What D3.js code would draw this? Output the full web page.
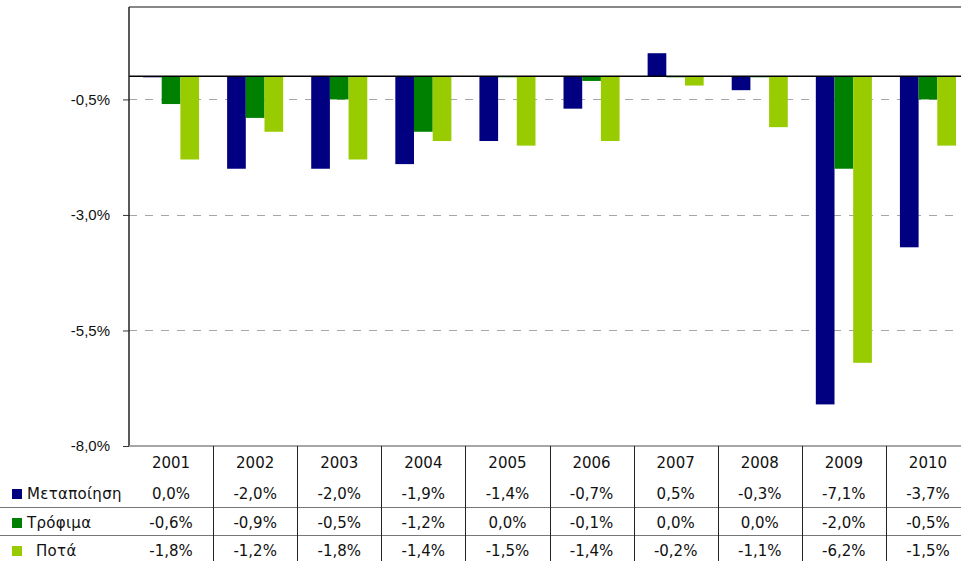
<!DOCTYPE html>
<html>
<head>
<meta charset="utf-8">
<script src="https://cdn.jsdelivr.net/npm/d3@7"></script>
<style>
	body { margin: 0; background: #fff; }
	svg { display: block; font-family: 'DejaVu Sans', Verdana, sans-serif; }
	text { fill: #111; }
</style>
</head>
<body>
<svg width="961" height="561"></svg>
<script>
'use strict'

// Data
const years = ['2001', '2002', '2003', '2004', '2005', '2006', '2007', '2008', '2009', '2010']
const seriesNames = ['Μεταποίηση', 'Τρόφιμα', 'Ποτά']
const manufacturing = [0.0, -2.0, -2.0, -1.9, -1.4, -0.7, 0.5, -0.3, -7.1, -3.7]
const food = [-0.6, -0.9, -0.5, -1.2, 0.0, -0.1, 0.0, 0.0, -2.0, -0.5]
const drinks = [-1.8, -1.2, -1.8, -1.4, -1.5, -1.4, -0.2, -1.1, -6.2, -1.5]
const yTicks = [-8.0, -5.5, -3.0, -0.5]
const colors = ['#000080', '#008000', '#99cc00']

const series = [manufacturing, food, drinks]

const svg = d3.select('svg')
const M = { left: 129, top: 7, right: 970, bottom: 446 }

const locale = d3.formatLocale({ decimal: ',', thousands: '.', grouping: [3], currency: ['', '€'], minus: '-' })
const fmt = (v) => locale.format('.1f')(v) + '%'

const x = d3.scaleBand().domain(years).range([M.left, M.right]).paddingInner(0).paddingOuter(0)
const xs = d3.scaleBand().domain(d3.range(series.length)).range([0, x.bandwidth()]).paddingInner(0).paddingOuter(0.75)
const y = d3.scaleLinear().domain([-8, 1.5]).range([M.bottom, M.top])

// Grid lines (dashed)
svg.append('g').selectAll('line')
	.data(yTicks.filter((d) => d > -8))
	.enter().append('line')
	.attr('x1', M.left).attr('x2', M.right)
	.attr('y1', (d) => Math.round(y(d)) + 0.5).attr('y2', (d) => Math.round(y(d)) + 0.5)
	.attr('stroke', '#a6a6a6').attr('stroke-dasharray', '8,8')

// Top border
svg.append('line')
	.attr('x1', M.left).attr('x2', M.right)
	.attr('y1', M.top).attr('y2', M.top)
	.attr('stroke', '#888').attr('stroke-width', 2)

// Bars
const groups = svg.append('g').selectAll('g')
	.data(years)
	.enter().append('g')
	.attr('transform', (d) => `translate(${x(d)},0)`)
groups.selectAll('rect')
	.data((d, i) => series.map((s, j) => ({ j: j, v: s[i] })))
	.enter().append('rect')
	.attr('x', (d) => xs(d.j))
	.attr('width', xs.bandwidth())
	.attr('y', (d) => Math.min(y(d.v), y(0)))
	.attr('height', (d) => Math.max(1, Math.abs(y(d.v) - y(0))))
	.attr('fill', (d) => colors[d.j])

// Zero line
svg.append('line')
	.attr('x1', M.left).attr('x2', M.right)
	.attr('y1', y(0)).attr('y2', y(0))
	.attr('stroke', '#000').attr('stroke-width', 1.5)

// Y axis
const yAxis = svg.append('g')
	.attr('transform', `translate(${M.left},0)`)
	.call(d3.axisLeft(y).tickValues(yTicks).tickFormat(fmt).tickSize(6).tickPadding(13))
yAxis.select('.domain').remove()
yAxis.selectAll('.tick line').attr('stroke', '#333')
yAxis.selectAll('.tick text').attr('font-size', 15).attr('font-family', null).attr('fill', '#111')
svg.append('line')
	.attr('x1', M.left).attr('x2', M.left)
	.attr('y1', M.top).attr('y2', M.bottom)
	.attr('stroke', '#222').attr('stroke-width', 1.5)

// Data table
const table = svg.append('g')
const rowY = [463, 494, 523, 551]
const rowLines = [507, 535]

table.append('line')
	.attr('x1', M.left).attr('x2', M.right)
	.attr('y1', M.bottom).attr('y2', M.bottom)
	.attr('stroke', '#888').attr('stroke-width', 1.5)
table.selectAll('line.row')
	.data(rowLines)
	.enter().append('line')
	.classed('row', true)
	.attr('x1', 0).attr('x2', M.right)
	.attr('y1', (d) => d + 0.5).attr('y2', (d) => d + 0.5)
	.attr('stroke', '#777')
table.selectAll('line.col')
	.data(years.slice(1))
	.enter().append('line')
	.classed('col', true)
	.attr('x1', (d) => Math.round(x(d)) + 0.5).attr('x2', (d) => Math.round(x(d)) + 0.5)
	.attr('y1', M.bottom).attr('y2', 561)
	.attr('stroke', '#222')

table.selectAll('text.year')
	.data(years)
	.enter().append('text')
	.classed('year', true)
	.attr('x', (d) => x(d) + x.bandwidth() / 2)
	.attr('y', rowY[0])
	.attr('dy', '0.35em')
	.attr('text-anchor', 'middle')
	.attr('font-size', 15)
	.text((d) => d)

series.forEach((s, j) => {
	table.selectAll(`text.v${j}`)
		.data(s)
		.enter().append('text')
		.classed(`v${j}`, true)
		.attr('x', (d, i) => x(years[i]) + x.bandwidth() / 2)
		.attr('y', rowY[j + 1])
		.attr('dy', '0.35em')
		.attr('text-anchor', 'middle')
		.attr('font-size', 15)
		.text((d) => fmt(d))
})

// Legend keys in the table
const legend = table.selectAll('g.key')
	.data(seriesNames)
	.enter().append('g')
	.classed('key', true)
	.attr('transform', (d, i) => `translate(0,${rowY[i + 1]})`)
legend.append('rect')
	.attr('x', 12).attr('y', -5)
	.attr('width', 10).attr('height', 10)
	.attr('fill', (d, i) => colors[i])
legend.append('text')
	.attr('x', (d, i) => i === 2 ? 36 : 27)
	.attr('dy', '0.35em')
	.attr('font-size', 15)
	.attr('letter-spacing', 0.3)
	.text((d) => d)
</script>
</body>
</html>
